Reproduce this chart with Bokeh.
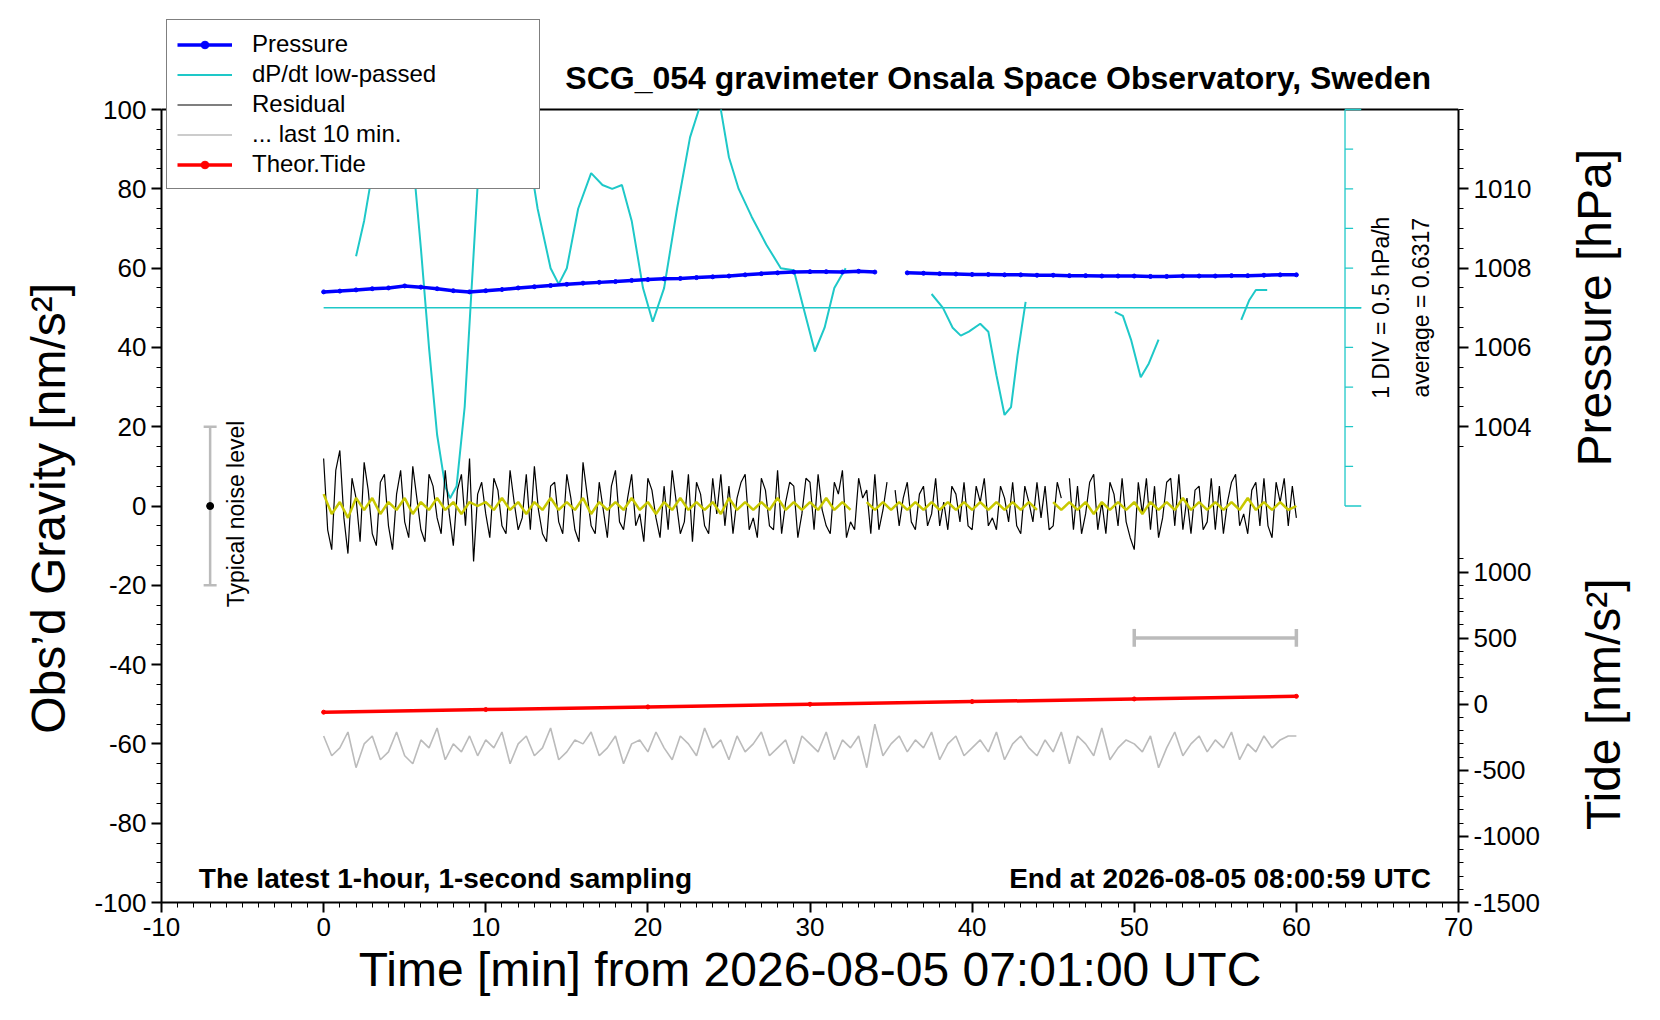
import math
import numpy as np
from bokeh.plotting import figure
from bokeh.layouts import row
from bokeh.models import (Range1d, LinearAxis, FixedTicker, CustomJSTickFormatter, Label,
                          Legend, LegendItem)
from bokeh.embed import file_html
from bokeh.resources import INLINE

FONT = "Liberation Sans"
nan = np.nan

residual = [12,-6,-11,9,14,-3,-12,7,2,-9,11,4,-7,-10,6,8,-5,-11,3,9,
 -4,-8,10,2,-6,-9,8,5,-3,-7,9,-2,-10,4,8,-5,12,-14,3,6,
 -2,-8,7,4,-5,-7,9,1,-6,-3,8,-6,10,-1,-7,-9,5,6,-4,-7,
 8,2,-6,-9,11,3,-5,-7,6,-1,-8,5,9,-4,-6,2,8,-5,-2,-9,
 7,4,-3,-8,5,-6,9,1,-7,-4,8,-9,6,3,-5,-7,7,-2,8,-5,
 5,-7,2,6,8,-6,-3,-8,7,4,-5,-6,9,-7,1,6,5,-8,-2,7,
 6,-6,8,-1,-5,-7,6,3,9,-8,-4,-6,7,2,4,-7,8,-6,-1,6,
 nan,4,-5,2,6,-4,-6,3,5,-5,-2,7,-5,1,-6,5,3,-4,6,-5,
 -6,5,1,7,-5,-3,-6,5,2,-4,6,-5,-7,5,1,-4,6,-3,5,-6,
 -5,6,2,nan,7,-6,5,-7,-2,6,8,-6,1,-7,6,3,-5,7,-4,-8,
 -11,6,-2,7,-6,5,-8,-3,6,7,-5,8,-6,2,-7,4,5,-6,-4,7,
 -6,5,-7,1,6,8,-5,-2,-7,4,6,-5,7,-5,-8,6,1,7,-5,5,-3]
residual_t = np.arange(len(residual)) * 0.25

smoothed = [3,-2,1,-3,2,-1,2,-2,1,-1,2,-2,1,-1,2,-1,1,-2,1,0,
 1,-1,2,-1,1,-2,1,-1,2,-1,1,-1,2,-2,1,-1,1,-1,2,-1,
 1,-2,1,-1,2,-1,1,-1,1,-2,2,-1,1,-1,1,-1,2,-1,1,-1,
 1,-1,2,-1,1,-1,nan,1,-1,1,-1,1,-1,1,-1,1,-1,1,-1,1,
 -1,1,-1,1,-1,1,-1,1,-1,nan,1,-1,1,-1,1,-2,1,-1,1,-1,
 1,-2,1,-1,1,-1,2,-1,1,-1,1,-1,1,-1,2,-1,1,-1,1,-1,0]
smoothed_t = np.arange(len(smoothed)) * 0.5

last10 = [-58,-63,-61,-57,-66,-60,-58,-64,-62,-57,-63,-65,-59,-61,-56,-64,-60,-62,-58,-63,
 -59,-61,-57,-65,-60,-58,-63,-61,-56,-64,-62,-59,-60,-57,-63,-61,-58,-65,-60,-59,
 -62,-57,-61,-64,-58,-60,-63,-56,-61,-59,-64,-58,-62,-60,-57,-63,-61,-59,-65,-58,
 -60,-62,-57,-64,-59,-61,-58,-66,-55,-63,-60,-58,-62,-59,-61,-57,-64,-60,-58,-63,
 -61,-59,-62,-57,-64,-60,-58,-61,-63,-59,-62,-57,-65,-58,-60,-63,-56,-64,-61,-59,
 -60,-62,-58,-66,-61,-57,-63,-60,-58,-62,-59,-61,-57,-64,-60,-62,-58,-61,-59,-58,-58]
last10_t = np.arange(len(last10)) * 0.5

pressure = [1007.40,1007.42,1007.45,1007.48,1007.50,1007.55,1007.52,1007.48,1007.43,1007.40,
 1007.43,1007.46,1007.50,1007.53,1007.56,1007.59,1007.62,1007.64,1007.66,1007.69,
 1007.71,1007.73,1007.74,1007.76,1007.78,1007.80,1007.83,1007.86,1007.88,1007.90,
 1007.91,1007.91,1007.90,1007.92,1007.90,nan,1007.88,1007.87,1007.86,1007.85,
 1007.84,1007.84,1007.83,1007.83,1007.82,1007.82,1007.81,1007.81,1007.80,1007.80,
 1007.80,1007.79,1007.79,1007.80,1007.80,1007.80,1007.81,1007.81,1007.82,1007.83,1007.83]
pressure_t = np.arange(len(pressure)) * 1.0

dpdt_t = [2,2.5,3,3.5,4,4.5,5,5.5,6,6.5,7,7.5,7.8,8.2,8.7,9.2,9.7,10.2,11,11.8,12.5,13.2,14,14.5,15,
 15.7,16.5,17.2,17.8,18.4,19,19.7,20.3,21,21.8,22.6,23.3,24,24.5,25,25.6,26.4,27.3,28.2,29,29.6,
 30.3,30.9,31.5,32.2, 34,
 37.5,38.2,38.8,39.3,39.8,40.5,41,41.5,42,42.4,42.8,43.3, 46,
 48.8,49.3,49.8,50.4,50.9,51.5, 54,
 56.6,57.1,57.5,58.2]
dpdt = [1.28,1.73,2.33,2.88,3.33,3.33,3.08,2.53,1.38,0.13,-0.97,-1.62,-1.77,-1.62,-0.62,1.13,2.88,
 3.73,3.73,3.33,2.78,1.88,1.13,0.93,1.13,1.88,2.33,2.18,2.13,2.18,1.73,0.88,0.455,0.88,1.88,2.78,
 3.23,3.43,3.13,2.53,2.13,1.78,1.43,1.13,1.105,0.63,0.08,0.38,0.88,1.13, nan,
 0.805,0.63,0.38,0.28,0.33,0.43,0.33,-0.22,-0.72,-0.62,0.03,0.705, nan,
 0.58,0.53,0.23,-0.245,-0.07,0.23, nan,
 0.48,0.73,0.855,0.855]
dpdt_avg = 0.6317

tide_t = [0, 10, 20, 30, 40, 50, 60]
tide = [-60, -40, -20, 0, 20, 40, 60]

PXY = 793 / 200.0   # px per gravity unit
YTOP = 100 + 102 / PXY
NB = "\u00a0"

p = figure(frame_width=1297, frame_height=895,
           x_range=Range1d(-10, 70), y_range=Range1d(-100, YTOP),
           output_backend="svg", toolbar_location=None,
           min_border_left=161, min_border_right=100, min_border_top=7, min_border_bottom=105)
p.extra_y_ranges = {"pres": Range1d(992, 1008 + (YTOP - 60) / 10),
                    "tide": Range1d(-1500, -1500 + (YTOP + 100) * 30)}
p.xgrid.visible = False
p.ygrid.visible = False
p.outline_line_color = None

plain = CustomJSTickFormatter(code="return String(Math.round(tick));")

def style(ax):
    ax.axis_line_width = 2
    ax.major_tick_line_width = 2
    ax.major_tick_out = 10
    ax.minor_tick_out = 5
    ax.major_tick_in = 0
    ax.minor_tick_in = 0
    ax.major_label_text_font = FONT
    ax.major_label_text_font_size = "26px"
    ax.major_label_text_color = "black"
    ax.axis_label_text_font = FONT
    ax.axis_label_text_font_style = "normal"
    ax.axis_label_text_color = "black"
    ax.axis_label_text_font_size = "48px"
    ax.bounds = (-100, 100)

p.xaxis.ticker = FixedTicker(ticks=list(range(-10, 71, 10)), minor_ticks=list(range(-10, 71, 1)))
p.xaxis.axis_label = "Time [min] from 2026-08-05 07:01:00 UTC"
p.xaxis.formatter = plain
p.yaxis.ticker = FixedTicker(ticks=list(range(-100, 101, 20)), minor_ticks=list(range(-100, 101, 5)))
p.yaxis.axis_label = "Obs’d Gravity [nm/s²]" + NB * 8
p.yaxis.formatter = plain
style(p.xaxis[0]); style(p.yaxis[0])
p.xaxis.bounds = (-10, 70)
p.xaxis.axis_label_standoff = 4
p.yaxis.axis_label_standoff = 16

rticks = [20, 40, 60, 80] + [(500 * k) / 30 - 100 for k in range(6)]
rminor = list(range(15, 101, 5)) + [(100 * k) / 30 - 100 for k in range(27)]
rax = LinearAxis(ticker=FixedTicker(ticks=rticks, minor_ticks=rminor),
                 formatter=CustomJSTickFormatter(code="""
if (tick > 0) { return (1008 + (tick - 60) / 10).toFixed(0); }
return (Math.round(((tick + 100) * 30 - 1500) / 100) * 100).toFixed(0);"""))
style(rax)
p.add_layout(rax, "right")

# top frame border
p.segment(x0=[-10], y0=[100], x1=[70], y1=[100], line_color="black", line_width=2)

# dP/dt in division units (50 = average, 10 units = 0.5 hPa/h), clipped at the frame top
def clip_top(xs, ys, top=100.0):
    ox, oy = [], []
    for i in range(len(xs)):
        x, y = xs[i], ys[i]
        if i > 0:
            xp, yp = xs[i - 1], ys[i - 1]
            if not (math.isnan(y) or math.isnan(yp)) and ((yp > top) != (y > top)):
                xc = xp + (top - yp) * (x - xp) / (y - yp)
                ox.append(xc); oy.append(top)
                if y > top:
                    ox.append(xc); oy.append(nan)
        if math.isnan(y) or y <= top:
            ox.append(x); oy.append(y)
    return ox, oy

dpdt_div = [50 + (v - dpdt_avg) / 0.05 for v in dpdt]
cx, cy = clip_top(dpdt_t, dpdt_div)
CYAN = "#1ec8c8"
r_dp = p.line(cx, cy, line_color=CYAN, line_width=2)
p.segment(x0=[0], y0=[50], x1=[64], y1=[50], line_color=CYAN, line_width=1.3)
p.segment(x0=[63], y0=[0], x1=[63], y1=[100], line_color=CYAN, line_width=1.3)
tk = list(range(0, 101, 10))
p.segment(x0=[63] * len(tk), y0=tk, x1=[63.5 if t % 50 else 64 for t in tk], y1=tk,
          line_color=CYAN, line_width=1.3)

def lab(fig, **kw):
    kw.setdefault("text_font", FONT)
    kw.setdefault("text_color", "black")
    kw.setdefault("text_baseline", "middle")
    fig.add_layout(Label(**kw))

lab(p, x=65.2, y=50, text="1 DIV = 0.5 hPa/h", angle=math.pi / 2, text_align="center", text_font_size="23px")
lab(p, x=67.7, y=50, text="average = %.4f" % dpdt_avg, angle=math.pi / 2, text_align="center", text_font_size="23px")

r_res = p.line(residual_t, residual, line_color="black", line_width=1.2)
p.line(smoothed_t, smoothed, line_color="#c8c800", line_width=2.5)
r_l10 = p.line(last10_t, last10, line_color="#bbbbbb", line_width=1.6)
r_pl = p.line(pressure_t, pressure, y_range_name="pres", line_color="blue", line_width=3.5)
r_ps = p.scatter(pressure_t, pressure, y_range_name="pres", color="blue", size=4)
r_tl = p.line(tide_t, tide, y_range_name="tide", line_color="red", line_width=3.5)
r_ts = p.scatter(tide_t, tide, y_range_name="tide", color="red", size=4)

# noise bar
p.segment(x0=[-7], y0=[-20], x1=[-7], y1=[20], line_color="#bbbbbb", line_width=2.5)
p.segment(x0=[-7.4, -7.4], y0=[-20, 20], x1=[-6.6, -6.6], y1=[-20, 20], line_color="#bbbbbb", line_width=2.5)
p.scatter([-7], [0], color="black", size=7)
lab(p, x=-5.4, y=-2, text="Typical noise level", angle=math.pi / 2, text_align="center", text_font_size="23px")
# 10-min scale bar
p.segment(x0=[50], y0=[-33.3], x1=[60], y1=[-33.3], line_color="#bbbbbb", line_width=3.5)
p.segment(x0=[50, 60], y0=[-35.5, -35.5], x1=[50, 60], y1=[-31, -31], line_color="#bbbbbb", line_width=3.5)

lab(p, x=-7.7, y=-94, text="The latest 1-hour, 1-second sampling", text_font_size="28px", text_font_style="bold")
lab(p, x=68.3, y=-94, text="End at 2026-08-05 08:00:59 UTC", text_align="right", text_font_size="28px",
    text_font_style="bold")
lab(p, x=68.3, y=108, text="SCG_054 gravimeter Onsala Space Observatory, Sweden", text_align="right",
    text_font_size="32px", text_font_style="bold")

legend = Legend(items=[
    LegendItem(label="Pressure", renderers=[r_pl, r_ps]),
    LegendItem(label="dP/dt low-passed", renderers=[r_dp]),
    LegendItem(label="Residual", renderers=[r_res]),
    LegendItem(label="... last 10 min.", renderers=[r_l10]),
    LegendItem(label="Theor.Tide", renderers=[r_tl, r_ts]),
], location=(5, 713), label_text_font=FONT, label_text_font_size="24px", label_text_color="black",
   glyph_width=55, label_height=19, glyph_height=19, spacing=2, padding=10, label_standoff=20,
   label_width=277, border_line_color="black", border_line_width=1, background_fill_alpha=1, margin=0)
p.add_layout(legend)

# side strip holding the right-hand axis titles
side = figure(frame_width=80, frame_height=895, x_range=Range1d(0, 80), y_range=Range1d(-100, YTOP),
              output_backend="svg", toolbar_location=None, min_border_left=0, min_border_right=0,
              min_border_top=7, min_border_bottom=105)
side.axis.visible = False
side.grid.visible = False
side.outline_line_color = None
lab(side, x=36, y=50, text="Pressure [hPa]", angle=math.pi / 2, text_align="center", text_font_size="48px")
lab(side, x=45, y=-50, text="Tide [nm/s²]", angle=math.pi / 2, text_align="center", text_font_size="48px")

open("out.html", "w").write(file_html(row(p, side, spacing=0), INLINE))
